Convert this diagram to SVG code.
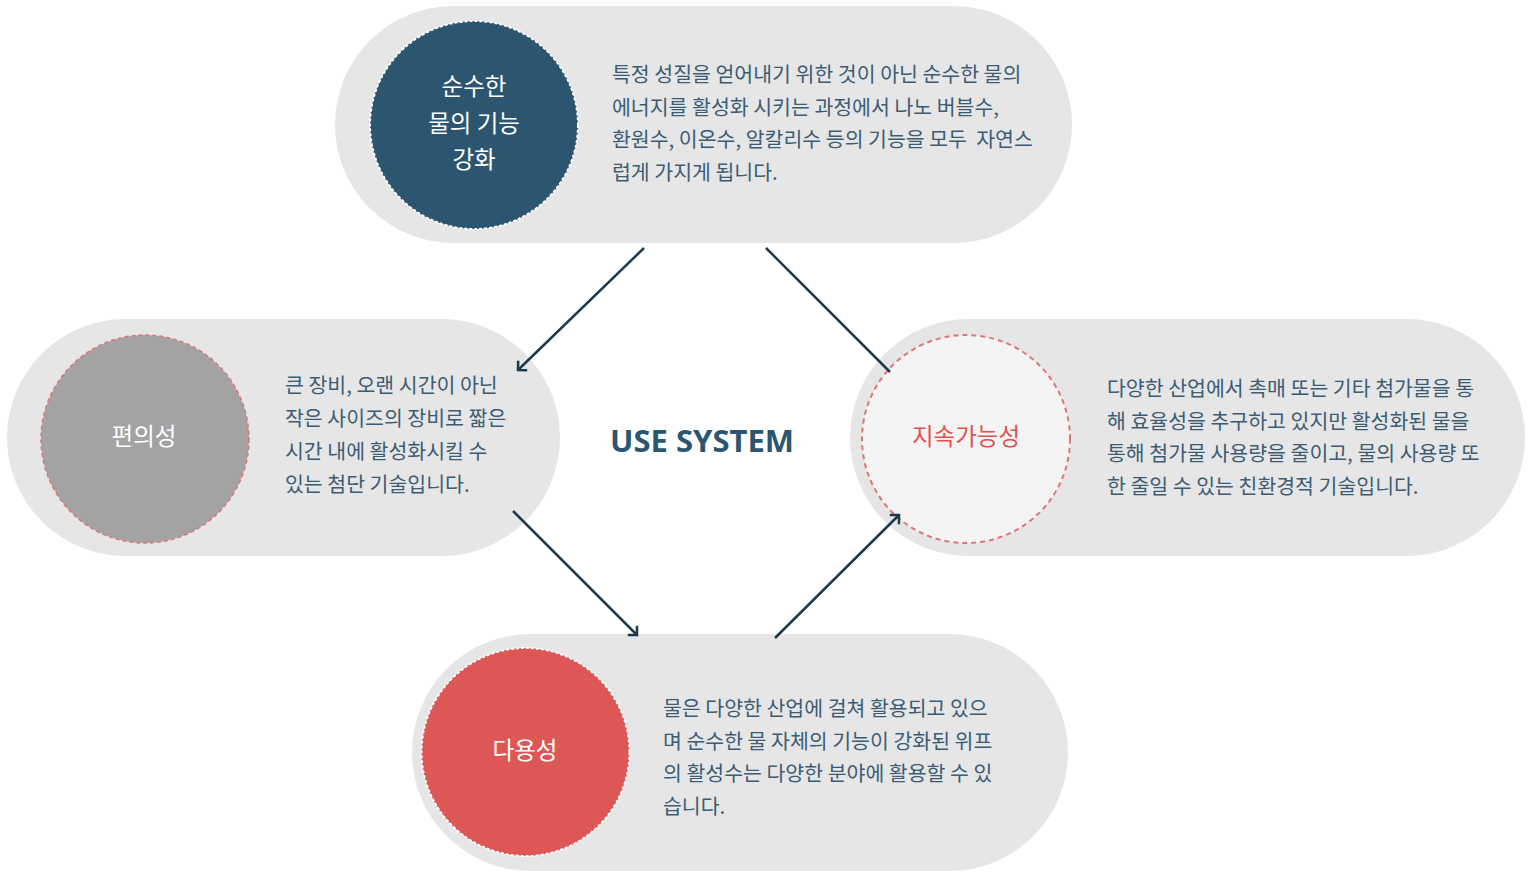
<svg xmlns="http://www.w3.org/2000/svg" width="1536" height="873" viewBox="0 0 1536 873">
<defs>
<style>
.pill{fill:#e6e6e6}
.body{font-family:"Noto Sans CJK KR","Noto Sans",sans-serif;font-size:20.5px;fill:#3b5c74;letter-spacing:0px;white-space:pre}
.lbl{font-family:"Noto Sans CJK KR","Noto Sans",sans-serif;font-size:23.5px;text-anchor:middle}
.conn{stroke:#1d3a4d;stroke-width:2.5;fill:none}
</style>
<marker id="ah" markerUnits="userSpaceOnUse" markerWidth="20" markerHeight="20" viewBox="-10 -10 20 20" refX="0" refY="0" orient="auto">
<path d="M-6.5,-6.5 L0,0 L-6.5,6.5" fill="none" stroke="#1d3a4d" stroke-width="2.5"/>
</marker>
</defs>
<rect width="1536" height="873" fill="#ffffff"/>

<g id="node-top">
<rect class="pill" x="335" y="6" width="737" height="237" rx="118.5"/>
<circle cx="474" cy="125" r="104" fill="#2c5670" stroke="#ffffff" stroke-width="2" stroke-dasharray="3 2"/>
<text class="lbl" fill="#ffffff"><tspan x="474" y="95">순수한</tspan><tspan x="474" y="132">물의 기능</tspan><tspan x="474" y="168">강화</tspan></text>
<text class="body"><tspan x="612" y="82">특정 성질을 얻어내기 위한 것이 아닌 순수한 물의</tspan><tspan x="612" y="114.5">에너지를 활성화 시키는 과정에서 나노 버블수,</tspan><tspan x="612" y="147">환원수, 이온수, 알칼리수 등의 기능을 모두  자연스</tspan><tspan x="612" y="179.5">럽게 가지게 됩니다.</tspan></text>
</g>

<g id="node-left">
<rect class="pill" x="7" y="319" width="553" height="237" rx="118.5"/>
<circle cx="145" cy="439" r="104" fill="#a3a3a3" stroke="#e07575" stroke-width="1.5" stroke-dasharray="4 3"/>
<text class="lbl" fill="#ffffff" x="144" y="445">편의성</text>
<text class="body"><tspan x="285" y="393">큰 장비, 오랜 시간이 아닌</tspan><tspan x="285" y="426">작은 사이즈의 장비로 짧은</tspan><tspan x="285" y="459">시간 내에 활성화시킬 수</tspan><tspan x="285" y="492">있는 첨단 기술입니다.</tspan></text>
</g>

<g id="node-right">
<rect class="pill" x="850" y="319" width="675" height="237" rx="118.5"/>
<circle cx="966" cy="439" r="104" fill="#f4f4f4" stroke="#e07575" stroke-width="2" stroke-dasharray="5 4"/>
<text class="lbl" fill="#e05353" x="966" y="445">지속가능성</text>
<text class="body"><tspan x="1107" y="396">다양한 산업에서 촉매 또는 기타 첨가물을 통</tspan><tspan x="1107" y="428.7">해 효율성을 추구하고 있지만 활성화된 물을</tspan><tspan x="1107" y="461.3">통해 첨가물 사용량을 줄이고, 물의 사용량 또</tspan><tspan x="1107" y="494">한 줄일 수 있는 친환경적 기술입니다.</tspan></text>
</g>

<g id="node-bottom">
<rect class="pill" x="412" y="634" width="656" height="237" rx="118.5"/>
<circle cx="525.5" cy="752" r="104" fill="#de5757" stroke="#ffffff" stroke-width="2" stroke-dasharray="3 2"/>
<text class="lbl" fill="#ffffff" x="525" y="759">다용성</text>
<text class="body"><tspan x="663" y="716">물은 다양한 산업에 걸쳐 활용되고 있으</tspan><tspan x="663" y="748.7">며 순수한 물 자체의 기능이 강화된 위프</tspan><tspan x="663" y="781.3">의 활성수는 다양한 분야에 활용할 수 있</tspan><tspan x="663" y="814">습니다.</tspan></text>
</g>

<g id="center-title">
<text x="702" y="452" text-anchor="middle" font-family="'Noto Sans','Noto Sans CJK KR',sans-serif" font-weight="bold" font-size="31" fill="#2c5670">USE SYSTEM</text>
</g>

<g id="connectors">
<line class="conn" x1="644" y1="248" x2="518" y2="370" marker-end="url(#ah)"/>
<line class="conn" x1="766" y1="248" x2="890" y2="372"/>
<line class="conn" x1="513" y1="511" x2="637" y2="635" marker-end="url(#ah)"/>
<line class="conn" x1="775" y1="638" x2="899" y2="515" marker-end="url(#ah)"/>
</g>
</svg>
